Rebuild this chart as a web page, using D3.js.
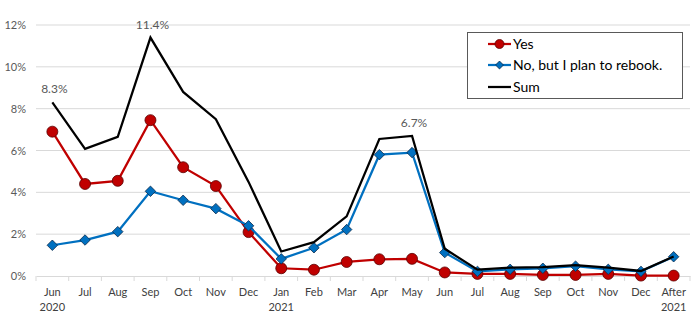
<!DOCTYPE html>
<html><head><meta charset="utf-8">
<script src="https://cdn.jsdelivr.net/npm/d3@7"></script>
<style>body{margin:0;background:#fff}svg{display:block}text{font-family:Lato,"Open Sans",sans-serif}</style>
</head><body><svg id="c" width="700" height="328"></svg>
<script>
const months = ["Jun","Jul","Aug","Sep","Oct","Nov","Dec","Jan","Feb","Mar","Apr","May","Jun","Jul","Aug","Sep","Oct","Nov","Dec","After"];
const years = ["2020","","","","","","","2021","","","","","","","","","","","","2021"];
const yesVals = [6.9,4.4,4.55,7.45,5.2,4.3,2.1,0.37,0.3,0.67,0.8,0.82,0.17,0.1,0.1,0.05,0.05,0.1,0.02,0.02];
const noVals = [1.47,1.72,2.12,4.05,3.62,3.22,2.4,0.82,1.35,2.22,5.8,5.9,1.12,0.22,0.32,0.37,0.47,0.32,0.22,0.92];
const sumVals = [8.3,6.08,6.65,11.4,8.8,7.5,4.5,1.17,1.62,2.85,6.55,6.7,1.3,0.3,0.4,0.42,0.52,0.4,0.24,0.93];
const yTicks = [0,2,4,6,8,10,12];
const labels = [{i:0,v:8.3,t:"8.3%"},{i:3,v:11.4,t:"11.4%"},{i:11,v:6.7,t:"6.7%"}];
const seriesNames = ["Yes","No, but I plan to rebook.","Sum"];

const svg = d3.select("#c");
const x = d3.scaleBand().domain(d3.range(months.length)).range([36,690]);
const y = d3.scaleLinear().domain([0,12]).range([276,25]);
const cx = i => x(i)+x.bandwidth()/2;

// gridlines
svg.append("g").selectAll("line").data(yTicks.filter(d=>d>0)).join("line")
  .attr("x1",36).attr("x2",690).attr("y1",d=>y(d)).attr("y2",d=>y(d))
  .attr("stroke","#d9d9d9").attr("stroke-width",1);
// y labels
svg.append("g").selectAll("text").data(yTicks).join("text")
  .attr("x",26).attr("y",d=>y(d)+4).attr("text-anchor","end")
  .attr("font-size",11).attr("fill","#595959").text(d=>d+"%");
// x axis
const xa = svg.append("g").attr("transform","translate(0,276)")
  .call(d3.axisBottom(x).tickSizeInner(0).tickSizeOuter(0).tickFormat(""));
xa.select(".domain").attr("stroke","#d9d9d9");
const bounds = d3.range(months.length+1).map(i=>36+i*x.bandwidth());
svg.append("g").selectAll("line").data(bounds).join("line")
  .attr("x1",d=>d).attr("x2",d=>d).attr("y1",276).attr("y2",281).attr("stroke","#d9d9d9");
svg.append("g").selectAll("text").data(months).join("text")
  .attr("x",(d,i)=>cx(i)).attr("y",296).attr("text-anchor","middle")
  .attr("font-size",11).attr("fill","#404040").text(d=>d);
svg.append("g").selectAll("text").data(years).join("text")
  .attr("x",(d,i)=>cx(i)).attr("y",311).attr("text-anchor","middle")
  .attr("font-size",11).attr("fill","#404040").text(d=>d);

const line = d3.line().x((d,i)=>cx(i)).y(d=>y(d));
// Yes
svg.append("path").datum(yesVals).attr("d",line).attr("fill","none").attr("stroke","#c00000").attr("stroke-width",2.25);
svg.append("g").selectAll("circle").data(yesVals).join("circle")
  .attr("cx",(d,i)=>cx(i)).attr("cy",d=>y(d)).attr("r",5.5)
  .attr("fill","#c00000").attr("stroke","#5a0000").attr("stroke-width",0.8);
// No
svg.append("path").datum(noVals).attr("d",line).attr("fill","none").attr("stroke","#0070c0").attr("stroke-width",2.25);
const diamond = d3.symbol().type(d3.symbolDiamond2).size(70);
svg.append("g").selectAll("path").data(noVals).join("path")
  .attr("d",diamond).attr("transform",(d,i)=>`translate(${cx(i)},${y(d)})`)
  .attr("fill","#0070c0").attr("stroke","#0b2a4a").attr("stroke-width",0.8);
// Sum
svg.append("path").datum(sumVals).attr("d",line).attr("fill","none").attr("stroke","#000").attr("stroke-width",2.25);

// data labels
svg.append("g").selectAll("text").data(labels).join("text")
  .attr("x",d=>cx(d.i)+2).attr("y",d=>y(d.v)-9).attr("text-anchor","middle")
  .attr("font-size",12).attr("fill","#595959").text(d=>d.t);

// legend
const lg = svg.append("g");
lg.append("rect").attr("x",467.5).attr("y",32.5).attr("width",215).attr("height",66)
  .attr("fill","#fff").attr("stroke","#595959").attr("stroke-width",1);
const ly = [44,65,87];
seriesNames.forEach((n,k)=>{
  const col = ["#c00000","#0070c0","#000"][k];
  lg.append("line").attr("x1",488).attr("x2",511).attr("y1",ly[k]).attr("y2",ly[k]).attr("stroke",col).attr("stroke-width",2.25);
  if(k===0) lg.append("circle").attr("cx",499.5).attr("cy",ly[k]).attr("r",4.5).attr("fill","#c00000").attr("stroke","#5a0000").attr("stroke-width",0.8);
  if(k===1) lg.append("path").attr("d",d3.symbol().type(d3.symbolDiamond2).size(40)).attr("transform",`translate(499.5,${ly[k]})`).attr("fill","#0070c0").attr("stroke","#0b2a4a").attr("stroke-width",0.8);
  lg.append("text").attr("x",513).attr("y",ly[k]+5).attr("font-size",14).attr("fill","#000").text(n);
});
</script></body></html>
